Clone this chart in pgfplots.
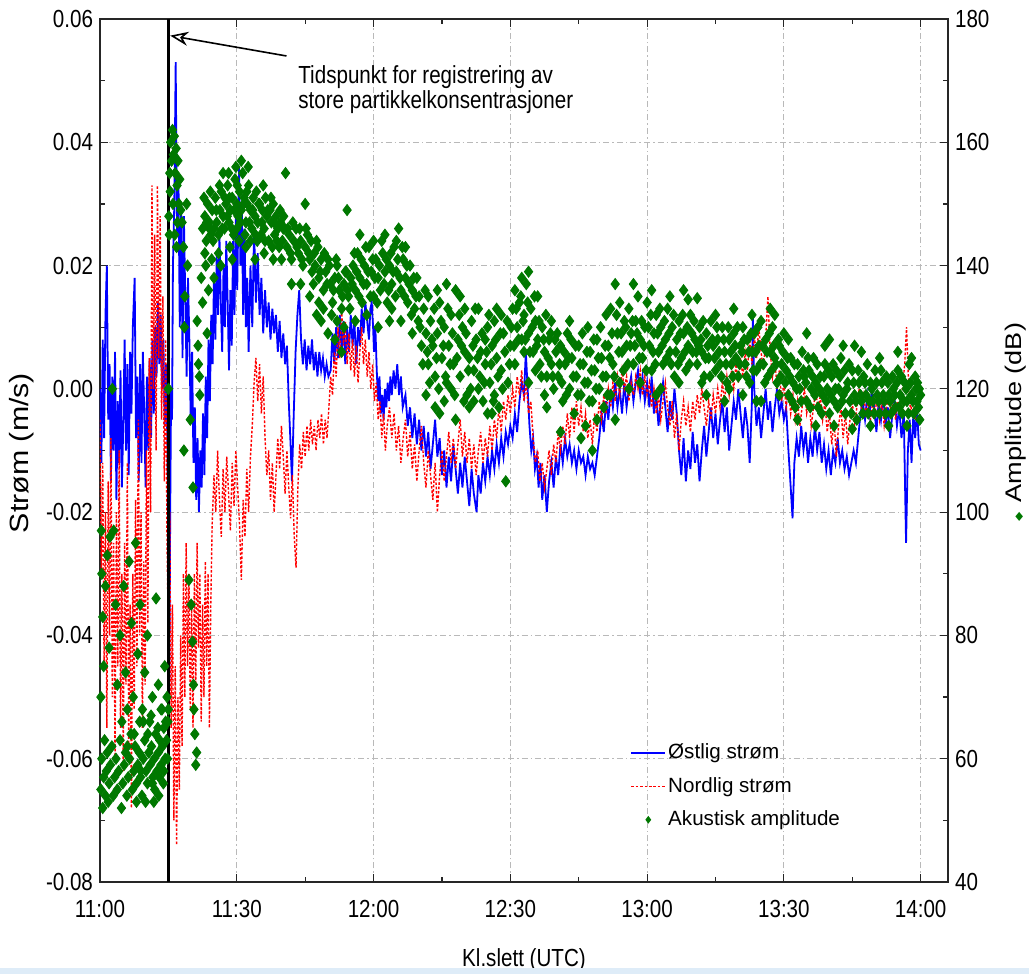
\documentclass[border=0pt]{standalone}
\usepackage{pgfplots}
\pgfplotsset{compat=1.18}
\usepackage{pgfplotstable}
\usepackage{fontspec}
\setmainfont{Liberation Sans}
\newfontfamily\dejavu{DejaVu Sans}
\usetikzlibrary{arrows.meta}
\definecolor{ampgreen}{RGB}{0,120,0}
\definecolor{gridgray}{RGB}{185,185,185}
\definecolor{bandblue}{RGB}{222,236,248}

\begin{document}
% Eastward current (m/s), minutes after 11:00 UTC
\pgfplotstableread[row sep=\\]{
t v\\
0.0 0.000\\ 0.3 -0.012\\ 0.6 0.008\\ 0.9 -0.008\\ 1.2 0.012\\ 1.5 0.020\\ 1.8 -0.005\\ 2.1 0.004\\ 2.4 -0.015\\ 2.7 0.002\\
3.0 -0.010\\ 3.3 0.006\\ 3.6 -0.018\\ 3.9 -0.002\\ 4.2 -0.012\\ 4.5 0.003\\ 4.8 -0.016\\ 5.1 -0.006\\ 5.4 0.008\\ 5.7 -0.010\\
6.0 0.004\\ 6.3 -0.014\\ 6.6 0.006\\ 6.9 -0.004\\ 7.2 0.010\\ 7.6 0.018\\ 7.9 -0.008\\ 8.2 0.002\\ 8.5 -0.015\\ 8.8 0.004\\
9.1 -0.012\\ 9.4 0.006\\ 9.7 -0.004\\ 10.0 -0.016\\ 10.3 0.002\\ 10.6 -0.010\\ 10.9 0.005\\ 11.2 -0.008\\ 11.5 0.008\\ 11.8 -0.004\\
12.1 0.010\\ 12.4 0.002\\ 12.7 0.014\\ 13.0 0.004\\ 13.3 0.012\\ 13.6 0.000\\ 13.9 0.008\\ 14.2 -0.006\\ 14.5 0.004\\ 14.8 -0.010\\
15.0 -0.030\\ 15.2 -0.049\\ 15.4 -0.020\\ 15.6 0.000\\ 15.8 -0.005\\ 16.0 0.020\\ 16.3 0.030\\ 16.6 0.053\\ 16.9 0.025\\ 17.2 0.035\\
17.5 0.010\\ 17.8 0.030\\ 18.1 0.005\\ 18.4 0.028\\ 18.7 0.015\\ 19.0 0.002\\ 19.3 0.018\\ 19.6 0.008\\ 19.9 -0.005\\ 20.2 0.006\\
20.5 -0.012\\ 20.8 -0.003\\ 21.1 -0.018\\ 21.4 -0.008\\ 21.7 -0.020\\ 22.0 -0.010\\ 22.3 -0.016\\ 22.6 -0.004\\ 22.9 -0.014\\ 23.2 0.002\\
23.5 -0.008\\ 23.8 0.008\\ 24.1 -0.002\\ 24.4 0.012\\ 24.7 0.004\\ 25.0 0.018\\ 25.3 0.008\\ 25.6 0.022\\ 25.9 0.012\\ 26.2 0.025\\
26.5 0.014\\ 26.8 0.006\\ 27.1 0.020\\ 27.4 0.010\\ 27.7 0.024\\ 28.0 0.014\\ 28.3 0.003\\ 28.6 0.016\\ 28.9 0.007\\ 29.2 0.024\\
29.5 0.012\\ 29.8 0.028\\ 30.1 0.016\\ 30.5 0.036\\ 30.8 0.020\\ 31.1 0.030\\ 31.4 0.012\\ 31.7 0.026\\ 32.0 0.010\\ 32.3 0.018\\
32.6 0.006\\ 33.0 0.020\\ 33.4 0.010\\ 33.8 0.026\\ 34.2 0.014\\ 34.6 0.022\\ 35.0 0.012\\ 35.4 0.018\\ 35.8 0.009\\ 36.2 0.016\\
36.6 0.010\\ 37.0 0.014\\ 37.4 0.008\\ 37.8 0.013\\ 38.2 0.009\\ 38.6 0.012\\ 39.0 0.006\\ 39.4 0.011\\ 39.8 0.005\\ 40.2 0.009\\
40.6 0.004\\ 41.0 0.007\\ 41.4 -0.002\\ 41.8 -0.009\\ 42.1 -0.015\\ 42.5 -0.004\\ 42.9 0.006\\ 43.3 0.012\\ 43.7 0.016\\ 44.1 0.008\\
44.5 0.004\\ 44.9 0.008\\ 45.3 0.003\\ 45.7 0.007\\ 46.1 0.004\\ 46.5 0.008\\ 46.9 0.003\\ 47.3 0.006\\ 47.7 0.002\\ 48.1 0.006\\
48.5 0.003\\ 48.9 0.005\\ 49.3 0.002\\ 49.7 0.004\\ 50.1 0.002\\ 50.6 0.003\\ 51.0 0.009\\ 51.4 0.004\\ 51.8 0.010\\ 52.2 0.005\\
52.6 0.012\\ 53.0 0.006\\ 53.4 0.011\\ 53.8 0.004\\ 54.2 0.010\\ 54.6 0.006\\ 55.0 0.012\\ 55.4 0.007\\ 55.8 0.011\\ 56.2 0.004\\
56.6 0.010\\ 57.0 0.007\\ 57.4 0.013\\ 57.8 0.009\\ 58.2 0.014\\ 58.6 0.011\\ 59.0 0.008\\ 59.3 0.013\\ 59.6 0.014\\ 59.9 0.010\\
60.1 0.006\\ 60.4 0.010\\ 60.7 0.003\\ 61.0 -0.002\\ 61.3 0.002\\ 61.6 -0.004\\ 61.9 -0.001\\ 62.2 -0.005\\ 62.5 0.000\\ 62.8 -0.003\\
63.1 0.001\\ 63.4 -0.002\\ 63.7 0.002\\ 64.0 -0.001\\ 64.4 0.003\\ 64.8 0.000\\ 65.2 0.004\\ 65.6 -0.001\\ 66.0 0.002\\ 66.4 -0.003\\
67.0 -0.001\\ 67.5 -0.006\\ 68.0 -0.003\\ 68.5 -0.008\\ 69.0 -0.004\\ 69.5 -0.009\\ 70.0 -0.005\\ 70.5 -0.010\\ 71.0 -0.006\\ 71.5 -0.011\\
72.0 -0.007\\ 72.5 -0.013\\ 73.0 -0.009\\ 73.5 -0.005\\ 74.0 -0.011\\ 74.5 -0.008\\ 75.0 -0.014\\ 75.5 -0.010\\ 76.0 -0.016\\ 76.5 -0.011\\
77.0 -0.015\\ 77.5 -0.009\\ 78.0 -0.013\\ 78.5 -0.017\\ 79.0 -0.012\\ 79.5 -0.016\\ 80.0 -0.011\\ 80.5 -0.015\\ 81.0 -0.019\\ 81.5 -0.013\\
82.0 -0.017\\ 82.6 -0.020\\ 83.0 -0.014\\ 83.5 -0.017\\ 84.0 -0.012\\ 84.5 -0.015\\ 85.0 -0.011\\ 85.5 -0.014\\ 86.0 -0.010\\ 86.5 -0.013\\
87.0 -0.009\\ 87.5 -0.012\\ 88.0 -0.008\\ 88.5 -0.011\\ 89.0 -0.007\\ 89.5 -0.009\\ 90.0 -0.006\\ 90.5 -0.008\\ 91.0 -0.004\\ 91.5 -0.007\\
92.0 -0.002\\ 92.5 0.001\\ 93.0 -0.001\\ 93.4 0.006\\ 93.8 0.000\\ 94.2 -0.006\\ 94.6 -0.010\\ 95.0 -0.008\\ 95.4 -0.013\\ 95.8 -0.011\\
96.2 -0.016\\ 96.6 -0.012\\ 97.0 -0.018\\ 97.5 -0.014\\ 98.0 -0.020\\ 98.5 -0.015\\ 99.0 -0.012\\ 99.5 -0.016\\ 100.0 -0.011\\ 100.5 -0.014\\
101.0 -0.009\\ 101.5 -0.012\\ 102.0 -0.008\\ 102.5 -0.011\\ 103.0 -0.009\\ 103.5 -0.012\\ 104.0 -0.010\\ 104.5 -0.013\\ 105.0 -0.010\\ 105.5 -0.012\\
106.0 -0.011\\ 106.5 -0.014\\ 107.0 -0.011\\ 107.5 -0.013\\ 108.0 -0.012\\ 108.5 -0.014\\ 109.0 -0.011\\ 109.5 -0.008\\ 110.0 -0.004\\ 110.5 -0.007\\
111.0 -0.002\\ 111.5 -0.005\\ 112.0 0.000\\ 112.5 -0.003\\ 113.0 0.001\\ 113.5 -0.003\\ 114.0 0.000\\ 114.5 -0.004\\ 115.0 0.001\\ 115.5 -0.003\\
116.0 0.000\\ 116.5 0.002\\ 117.0 -0.002\\ 117.5 0.001\\ 118.0 0.003\\ 118.5 -0.001\\ 119.0 0.002\\ 119.5 -0.002\\ 120.0 0.001\\ 120.5 -0.003\\
121.0 0.002\\ 121.5 -0.004\\ 122.0 -0.001\\ 122.5 -0.006\\ 123.0 -0.002\\ 123.5 0.001\\ 124.0 -0.003\\ 124.5 -0.007\\ 125.0 -0.002\\ 125.5 -0.005\\
126.0 0.000\\ 126.5 -0.004\\ 127.0 -0.010\\ 127.5 -0.014\\ 128.0 -0.008\\ 128.5 -0.015\\ 129.0 -0.010\\ 129.5 -0.013\\ 130.0 -0.007\\ 130.5 -0.012\\
131.0 -0.009\\ 131.5 -0.015\\ 132.0 -0.010\\ 132.5 -0.006\\ 133.0 -0.011\\ 133.5 -0.007\\ 134.0 -0.003\\ 134.5 -0.008\\ 135.0 -0.004\\ 135.5 -0.009\\
136.0 -0.005\\ 136.5 -0.002\\ 137.0 -0.007\\ 137.5 -0.003\\ 138.0 -0.010\\ 138.5 -0.006\\ 139.0 -0.002\\ 139.5 -0.005\\ 140.0 0.000\\ 140.5 -0.004\\
141.0 -0.008\\ 141.5 -0.003\\ 142.0 -0.006\\ 142.5 -0.012\\ 143.0 -0.002\\ 143.2 0.012\\ 143.5 0.000\\ 144.0 -0.006\\ 144.5 -0.003\\ 145.0 -0.008\\
145.5 -0.004\\ 146.0 0.000\\ 146.5 -0.005\\ 147.0 -0.002\\ 147.5 -0.007\\ 148.0 -0.003\\ 148.5 0.000\\ 149.0 -0.004\\ 149.5 -0.002\\ 150.0 -0.005\\
150.5 -0.003\\ 151.0 -0.010\\ 151.5 -0.016\\ 151.9 -0.021\\ 152.3 -0.012\\ 152.8 -0.008\\ 153.3 -0.011\\ 153.8 -0.006\\ 154.3 -0.010\\ 154.8 -0.007\\
155.3 -0.012\\ 155.8 -0.008\\ 156.3 -0.011\\ 156.8 -0.006\\ 157.3 -0.010\\ 157.8 -0.007\\ 158.3 -0.012\\ 158.8 -0.009\\ 159.3 -0.013\\ 159.8 -0.010\\
160.3 -0.014\\ 160.8 -0.010\\ 161.3 -0.012\\ 161.8 -0.008\\ 162.3 -0.012\\ 162.8 -0.010\\ 163.3 -0.013\\ 163.8 -0.011\\ 164.3 -0.014\\ 164.8 -0.012\\
165.3 -0.010\\ 165.8 -0.012\\ 166.3 -0.008\\ 166.8 -0.004\\ 167.3 -0.002\\ 167.8 -0.005\\ 168.3 -0.001\\ 168.8 -0.004\\ 169.3 0.000\\ 169.8 -0.003\\
170.3 -0.007\\ 170.8 -0.002\\ 171.3 -0.005\\ 171.8 -0.001\\ 172.3 -0.006\\ 172.8 -0.003\\ 173.3 -0.008\\ 173.8 -0.004\\ 174.3 -0.002\\ 174.8 -0.006\\
175.3 -0.003\\ 175.8 -0.008\\ 176.3 -0.004\\ 176.8 -0.025\\ 177.2 -0.010\\ 177.6 -0.005\\ 178.0 -0.012\\ 178.4 -0.004\\ 178.8 -0.008\\ 179.2 -0.003\\
179.6 -0.009\\ 180.0 -0.010\\
}\ostlig

% Northward current (m/s)
\pgfplotstableread[row sep=\\]{
t v\\
0.0 -0.005\\ 0.3 -0.030\\ 0.6 -0.012\\ 0.9 -0.045\\ 1.2 -0.020\\ 1.5 -0.055\\ 1.8 -0.015\\ 2.1 -0.040\\ 2.4 -0.008\\ 2.7 -0.050\\
3.0 -0.025\\ 3.3 -0.060\\ 3.6 -0.020\\ 3.9 -0.045\\ 4.2 -0.010\\ 4.5 -0.055\\ 4.8 -0.030\\ 5.1 -0.062\\ 5.4 -0.025\\ 5.7 -0.048\\
6.0 -0.012\\ 6.3 -0.058\\ 6.6 -0.035\\ 6.9 -0.068\\ 7.2 -0.030\\ 7.5 -0.052\\ 7.8 -0.018\\ 8.1 -0.045\\ 8.4 -0.005\\ 8.7 -0.040\\
9.0 -0.020\\ 9.3 -0.055\\ 9.6 -0.028\\ 9.9 -0.048\\ 10.2 -0.010\\ 10.5 -0.038\\ 10.8 0.005\\ 11.1 -0.020\\ 11.4 0.033\\ 11.7 0.000\\
12.0 0.025\\ 12.3 -0.010\\ 12.6 0.033\\ 12.9 0.005\\ 13.2 0.028\\ 13.5 -0.005\\ 13.8 0.015\\ 14.1 -0.015\\ 14.4 0.008\\ 14.7 -0.025\\
15.0 -0.040\\ 15.3 -0.020\\ 15.6 -0.055\\ 15.9 -0.035\\ 16.2 -0.070\\ 16.5 -0.045\\ 16.8 -0.074\\ 17.1 -0.050\\ 17.4 -0.065\\ 17.7 -0.040\\
18.0 -0.058\\ 18.3 -0.030\\ 18.6 -0.050\\ 18.9 -0.025\\ 19.2 -0.045\\ 19.5 -0.030\\ 19.8 -0.052\\ 20.1 -0.035\\ 20.4 -0.055\\ 20.7 -0.030\\
21.0 -0.048\\ 21.3 -0.025\\ 21.6 -0.042\\ 21.9 -0.030\\ 22.2 -0.054\\ 22.5 -0.035\\ 22.8 -0.050\\ 23.1 -0.028\\ 23.4 -0.045\\ 23.7 -0.030\\
24.0 -0.055\\ 24.3 -0.035\\ 24.6 -0.022\\ 25.0 -0.014\\ 25.4 -0.020\\ 25.8 -0.010\\ 26.2 -0.018\\ 26.6 -0.024\\ 27.0 -0.013\\ 27.4 -0.020\\
27.8 -0.011\\ 28.2 -0.017\\ 28.6 -0.023\\ 29.0 -0.012\\ 29.4 -0.019\\ 29.8 -0.010\\ 30.2 -0.016\\ 30.6 -0.022\\ 31.0 -0.031\\ 31.4 -0.018\\
31.8 -0.024\\ 32.2 -0.013\\ 32.6 -0.020\\ 33.0 -0.011\\ 33.4 -0.006\\ 33.8 0.001\\ 34.2 0.005\\ 34.6 -0.002\\ 35.0 0.004\\ 35.4 -0.004\\
35.8 0.002\\ 36.2 -0.008\\ 36.6 -0.014\\ 37.0 -0.010\\ 37.4 -0.018\\ 37.8 -0.012\\ 38.2 -0.020\\ 38.6 -0.014\\ 39.0 -0.008\\ 39.4 -0.013\\
39.8 -0.006\\ 40.2 -0.011\\ 40.6 -0.017\\ 41.0 -0.010\\ 41.4 -0.016\\ 41.8 -0.021\\ 42.2 -0.014\\ 42.6 -0.024\\ 43.0 -0.029\\ 43.4 -0.016\\
43.8 -0.009\\ 44.2 -0.013\\ 44.6 -0.007\\ 45.0 -0.011\\ 45.4 -0.006\\ 45.8 -0.010\\ 46.2 -0.005\\ 46.6 -0.009\\ 47.0 -0.006\\ 47.4 -0.010\\
47.8 -0.005\\ 48.2 -0.008\\ 48.6 -0.004\\ 49.0 -0.009\\ 49.4 -0.005\\ 49.8 -0.008\\ 50.2 -0.003\\ 50.6 0.002\\ 51.0 -0.001\\ 51.4 0.006\\
51.8 0.002\\ 52.2 0.010\\ 52.6 0.005\\ 53.0 0.013\\ 53.4 0.007\\ 53.8 0.011\\ 54.2 0.004\\ 54.6 0.009\\ 55.0 0.003\\ 55.4 0.008\\
55.8 0.002\\ 56.2 0.007\\ 56.6 0.001\\ 57.0 0.006\\ 57.4 0.010\\ 57.8 0.004\\ 58.2 0.008\\ 58.6 0.002\\ 59.0 0.006\\ 59.4 0.000\\
59.8 0.004\\ 60.2 -0.002\\ 60.6 0.001\\ 61.0 -0.005\\ 61.4 -0.002\\ 61.8 -0.008\\ 62.2 -0.004\\ 62.6 -0.010\\ 63.0 -0.006\\ 63.5 -0.003\\
64.0 -0.008\\ 64.5 -0.004\\ 65.0 -0.010\\ 65.5 -0.006\\ 66.0 -0.012\\ 66.5 -0.008\\ 67.0 -0.005\\ 67.5 -0.011\\ 68.0 -0.007\\ 68.5 -0.013\\
69.0 -0.009\\ 69.5 -0.015\\ 70.0 -0.010\\ 70.5 -0.006\\ 71.0 -0.012\\ 71.5 -0.016\\ 72.0 -0.010\\ 72.5 -0.014\\ 73.0 -0.018\\ 73.5 -0.012\\
74.0 -0.020\\ 74.5 -0.014\\ 75.0 -0.010\\ 75.5 -0.015\\ 76.0 -0.011\\ 76.5 -0.007\\ 77.0 -0.012\\ 77.5 -0.008\\ 78.0 -0.013\\ 78.5 -0.009\\
79.0 -0.005\\ 79.5 -0.011\\ 80.0 -0.007\\ 80.5 -0.012\\ 81.0 -0.008\\ 81.5 -0.013\\ 82.0 -0.009\\ 82.5 -0.014\\ 83.0 -0.010\\ 83.5 -0.007\\
84.0 -0.012\\ 84.5 -0.008\\ 85.0 -0.011\\ 85.5 -0.006\\ 86.0 -0.010\\ 86.5 -0.005\\ 87.0 -0.008\\ 87.5 -0.003\\ 88.0 -0.007\\ 88.5 -0.002\\
89.0 -0.005\\ 89.5 -0.001\\ 90.0 -0.004\\ 90.5 0.000\\ 91.0 -0.003\\ 91.5 0.002\\ 92.0 -0.001\\ 92.5 0.003\\ 93.0 -0.002\\ 93.5 0.001\\
94.0 -0.004\\ 94.5 -0.002\\ 95.0 -0.008\\ 95.5 -0.012\\ 96.0 -0.010\\ 96.5 -0.015\\ 97.0 -0.012\\ 97.5 -0.016\\ 98.0 -0.013\\ 98.5 -0.010\\
99.0 -0.014\\ 99.5 -0.009\\ 100.0 -0.012\\ 100.5 -0.007\\ 101.0 -0.010\\ 101.5 -0.006\\ 102.0 -0.009\\ 102.5 -0.004\\ 103.0 -0.008\\ 103.5 -0.003\\
104.0 -0.007\\ 104.5 -0.002\\ 105.0 -0.006\\ 105.5 -0.003\\ 106.0 -0.007\\ 106.5 -0.004\\ 107.0 -0.008\\ 107.5 -0.005\\ 108.0 -0.009\\ 108.5 -0.004\\
109.0 -0.007\\ 109.5 -0.002\\ 110.0 -0.005\\ 110.5 -0.001\\ 111.0 -0.004\\ 111.5 0.000\\ 112.0 -0.003\\ 112.5 0.001\\ 113.0 -0.002\\ 113.5 0.002\\
114.0 -0.001\\ 114.5 0.003\\ 115.0 0.000\\ 115.5 0.002\\ 116.0 -0.002\\ 116.5 0.001\\ 117.0 -0.001\\ 117.5 0.002\\ 118.0 0.000\\ 118.5 0.003\\
119.0 -0.001\\ 119.5 0.002\\ 120.0 -0.001\\ 120.5 0.001\\ 121.0 -0.003\\ 121.5 0.000\\ 122.0 -0.004\\ 122.5 -0.001\\ 123.0 -0.005\\ 123.5 -0.002\\
124.0 0.001\\ 124.5 -0.003\\ 125.0 -0.006\\ 125.5 -0.002\\ 126.0 -0.008\\ 126.5 -0.004\\ 127.0 -0.010\\ 127.5 -0.005\\ 128.0 -0.002\\ 128.5 -0.006\\
129.0 -0.003\\ 129.5 -0.007\\ 130.0 -0.002\\ 130.5 -0.005\\ 131.0 -0.001\\ 131.5 -0.004\\ 132.0 0.000\\ 132.5 -0.003\\ 133.0 -0.006\\ 133.5 -0.002\\
134.0 -0.005\\ 134.5 -0.001\\ 135.0 -0.004\\ 135.5 0.000\\ 136.0 -0.003\\ 136.5 0.001\\ 137.0 -0.002\\ 137.5 0.002\\ 138.0 -0.001\\ 138.5 0.003\\
139.0 0.000\\ 139.5 0.004\\ 140.0 0.001\\ 140.5 0.005\\ 141.0 0.002\\ 141.5 0.006\\ 142.0 0.003\\ 142.5 0.008\\ 143.0 0.004\\ 143.5 0.009\\
144.0 0.005\\ 144.5 0.010\\ 145.0 0.006\\ 145.5 0.003\\ 146.0 0.008\\ 146.5 0.015\\ 147.0 0.006\\ 147.5 0.002\\ 148.0 0.005\\ 148.5 0.000\\
149.0 0.003\\ 149.5 -0.002\\ 150.0 0.001\\ 150.5 -0.003\\ 151.0 0.000\\ 151.5 -0.004\\ 152.0 -0.001\\ 152.5 -0.005\\ 153.0 -0.002\\ 153.5 -0.006\\
154.0 -0.003\\ 154.5 0.000\\ 155.0 -0.004\\ 155.5 -0.002\\ 156.0 -0.006\\ 156.5 -0.003\\ 157.0 0.000\\ 157.5 -0.004\\ 158.0 -0.001\\ 158.5 -0.005\\
159.0 -0.002\\ 159.5 -0.007\\ 160.0 -0.004\\ 160.5 -0.009\\ 161.0 -0.005\\ 161.5 -0.011\\ 162.0 -0.006\\ 162.5 -0.003\\ 163.0 -0.008\\ 163.5 -0.004\\
164.0 -0.009\\ 164.5 -0.005\\ 165.0 -0.002\\ 165.5 -0.006\\ 166.0 -0.003\\ 166.5 0.000\\ 167.0 -0.003\\ 167.5 -0.001\\ 168.0 -0.004\\ 168.5 -0.002\\
169.0 -0.005\\ 169.5 -0.002\\ 170.0 -0.004\\ 170.5 -0.001\\ 171.0 -0.005\\ 171.5 -0.002\\ 172.0 -0.006\\ 172.5 -0.003\\ 173.0 -0.001\\ 173.5 -0.004\\
174.0 -0.002\\ 174.5 -0.005\\ 175.0 -0.002\\ 175.5 -0.004\\ 176.0 0.000\\ 176.5 0.004\\ 176.9 0.010\\ 177.3 0.002\\ 177.8 -0.004\\ 178.3 -0.001\\
178.8 -0.005\\ 179.3 -0.002\\ 180.0 -0.003\\
}\nordlig

% Acoustic backscatter amplitude (dB)
\pgfplotstableread[row sep=\\]{
t a\\
0.2 55\\ 0.4 60\\ 0.6 52\\ 0.8 57\\ 1.0 63\\ 1.2 54\\ 1.4 58\\ 1.6 61\\ 1.8 53\\ 2.0 56\\
2.3 59\\ 2.6 62\\ 2.9 54\\ 3.2 57\\ 3.5 60\\ 3.8 55\\ 4.1 58\\ 4.4 63\\ 4.7 52\\ 5.0 56\\
5.3 59\\ 5.6 61\\ 5.9 54\\ 6.2 57\\ 6.5 60\\ 6.8 64\\ 7.1 55\\ 7.4 58\\ 7.7 62\\ 8.0 56\\
8.3 59\\ 8.6 61\\ 8.9 57\\ 9.2 54\\ 9.5 60\\ 9.8 63\\ 10.1 58\\ 10.4 56\\ 10.7 61\\ 11.0 59\\
11.3 62\\ 11.6 57\\ 11.9 60\\ 12.2 64\\ 12.5 58\\ 12.8 61\\ 13.1 63\\ 13.4 59\\ 13.7 62\\ 14.0 65\\
14.3 60\\ 14.6 63\\ 14.9 66\\ 13.0 57\\ 14.0 58\\ 12.0 55\\ 10.0 53\\ 8.0 53\\ 11.5 56\\ 9.0 58\\
9.5 66\\ 10.5 64\\ 11.2 67\\ 12.7 65\\ 13.6 68\\ 14.4 66\\ 8.7 66\\ 7.5 64\\ 6.0 62\\ 14.8 60\\
13.9 56\\ 12.9 54\\ 11.8 53\\
0.3 97\\ 0.6 83\\ 0.4 90\\ 0.8 75\\ 0.2 70\\ 1.2 88\\ 1.6 93\\ 2.0 78\\ 2.7 120\\ 2.2 96\\
3.0 97\\ 3.4 85\\ 3.8 72\\ 4.4 80\\ 4.8 66\\ 5.2 88\\ 5.6 74\\ 6.0 68\\ 6.4 92\\ 6.9 82\\
7.3 70\\ 7.8 95\\ 8.3 77\\ 8.8 85\\ 9.3 68\\ 9.8 74\\ 10.4 80\\ 10.9 66\\ 11.5 70\\ 12.3 86\\
12.8 72\\ 13.4 68\\ 14.2 75\\ 14.7 70\\ 15.0 68\\ 15.0 120\\
15.1 148\\ 15.3 155\\ 15.5 160\\ 15.7 157\\ 15.9 162\\ 16.1 158\\ 16.3 161\\ 16.5 155\\ 16.7 159\\ 16.9 153\\
17.1 157\\ 17.3 150\\ 17.5 154\\ 15.4 152\\ 16.0 150\\ 17.0 147\\ 17.7 149\\ 15.2 145\\ 16.4 145\\ 16.8 143\\
18.0 147\\ 18.3 143\\ 18.5 130\\ 18.6 135\\ 18.4 110\\ 19.0 150\\ 19.2 140\\ 19.5 89\\ 20.0 85\\ 20.3 79\\
20.5 72\\ 20.6 68\\ 20.8 64\\ 21.0 59\\ 21.2 61\\ 21.3 131\\ 21.5 127\\ 21.6 124\\ 21.8 122\\ 21.9 119\\
22.2 138\\ 22.5 134\\ 23.0 142\\ 23.5 129\\ 24.0 146\\ 19.8 115\\ 20.4 104\\
22.5 146\\ 23.0 148\\ 23.3 144\\ 23.6 150\\ 24.0 147\\ 24.3 145\\ 24.6 149\\ 25.0 146\\ 25.3 151\\ 25.6 147\\
26.0 145\\ 26.3 149\\ 26.6 152\\ 27.0 148\\ 27.3 146\\ 27.6 150\\ 28.0 153\\ 28.3 147\\ 28.6 149\\ 29.0 151\\
29.3 145\\ 29.6 154\\ 30.0 150\\ 30.3 148\\ 30.6 152\\ 31.0 149\\ 31.3 155\\ 31.6 151\\ 32.0 147\\ 32.3 150\\
32.6 153\\ 33.0 149\\ 33.3 146\\ 33.6 151\\ 34.0 148\\ 34.3 152\\ 34.6 147\\ 35.0 150\\ 35.3 145\\ 35.6 149\\
36.0 146\\ 36.3 151\\ 36.6 148\\ 37.0 144\\ 37.3 149\\ 37.6 147\\ 38.0 150\\ 38.3 145\\ 38.6 148\\ 39.0 146\\
39.3 143\\ 39.6 147\\ 40.0 144\\ 24.5 141\\ 26.5 140\\ 28.5 143\\ 30.5 144\\ 32.0 143\\ 34.0 141\\ 36.0 142\\
38.0 141\\ 27.0 155\\ 29.8 156\\ 31.0 157\\ 25.0 138\\ 23.8 136\\
22.8 151\\ 23.4 147\\ 24.2 152\\ 24.8 144\\ 25.5 149\\ 26.2 153\\ 26.8 146\\ 27.4 151\\ 27.9 148\\ 28.4 151\\
28.9 146\\ 29.4 149\\ 30.1 153\\ 30.8 147\\ 31.5 150\\ 32.2 152\\ 32.8 147\\ 33.5 149\\ 34.1 145\\ 34.8 150\\
35.5 147\\ 36.2 144\\ 36.8 149\\ 37.5 151\\ 38.2 147\\ 38.8 144\\ 39.5 149\\ 40.2 146\\ 23.2 140\\ 26.0 142\\
29.0 141\\ 33.0 144\\ 37.8 143\\ 39.8 141\\ 28.2 155\\ 32.5 156\\ 35.8 153\\ 30.0 146\\ 31.8 145\\ 34.5 144\\
40.5 146\\ 41.0 143\\ 41.5 145\\ 42.0 141\\ 42.5 144\\ 43.0 146\\ 43.5 142\\ 44.0 144\\ 44.5 140\\ 45.0 143\\
45.5 145\\ 46.0 141\\ 46.5 139\\ 47.0 142\\ 47.5 144\\ 48.0 138\\ 48.5 141\\ 49.0 136\\ 49.5 139\\ 50.0 141\\
50.5 137\\ 51.0 134\\ 51.5 138\\ 52.0 140\\ 52.5 136\\ 53.0 133\\ 53.5 137\\ 54.0 139\\ 54.5 135\\ 55.0 138\\
40.7 155\\ 44.0 137\\ 46.0 135\\ 47.5 132\\ 48.5 131\\ 50.0 129\\ 51.5 128\\ 53.0 126\\ 54.2 149\\ 52.0 131\\
49.0 133\\ 45.0 150\\
40.3 148\\ 41.2 146\\ 41.8 142\\ 42.3 147\\ 43.2 143\\ 43.8 146\\ 44.3 141\\ 45.2 146\\ 45.8 142\\ 46.3 144\\
47.2 140\\ 47.8 143\\ 48.3 139\\ 49.2 142\\ 49.8 137\\ 50.3 140\\ 51.2 136\\ 51.8 141\\ 52.3 138\\ 53.2 135\\
53.8 139\\ 54.3 136\\ 54.8 133\\ 42.0 137\\ 46.8 137\\ 50.8 132\\ 53.5 130\\ 48.0 134\\
55.5 140\\ 56.0 136\\ 56.5 142\\ 57.0 138\\ 57.5 134\\ 58.0 140\\ 58.5 137\\ 59.0 143\\ 59.5 139\\ 60.0 135\\
60.5 141\\ 61.0 138\\ 61.5 136\\ 62.0 142\\ 62.5 139\\ 63.0 134\\ 63.5 140\\ 64.0 137\\ 64.5 143\\ 65.0 139\\
65.5 146\\ 66.0 136\\ 66.5 141\\ 67.0 138\\ 67.5 134\\ 68.0 140\\ 68.5 136\\ 69.0 133\\ 69.5 138\\ 70.0 135\\
56.0 131\\ 58.5 132\\ 61.0 130\\ 63.5 131\\ 66.0 131\\ 68.5 129\\ 57.0 145\\ 60.0 144\\ 62.5 145\\ 65.0 144\\
67.0 143\\ 64.0 133\\
55.3 137\\ 55.8 142\\ 56.3 139\\ 56.8 135\\ 57.3 141\\ 57.8 137\\ 58.3 143\\ 58.8 139\\ 59.3 135\\ 59.8 141\\
60.3 138\\ 60.8 134\\ 61.3 140\\ 61.8 144\\ 62.3 137\\ 62.8 141\\ 63.3 136\\ 63.8 142\\ 64.3 139\\ 64.8 135\\
65.3 141\\ 65.8 138\\ 66.3 143\\ 66.8 135\\ 67.3 140\\ 67.8 137\\ 68.3 132\\ 68.8 138\\ 69.3 135\\ 69.8 131\\
70.5 127\\ 71.0 133\\ 71.5 129\\ 72.0 124\\ 72.5 131\\ 73.0 127\\ 73.5 122\\ 74.0 129\\ 74.5 134\\ 75.0 125\\
75.5 130\\ 76.0 121\\ 76.5 127\\ 77.0 132\\ 77.5 124\\ 78.0 115\\ 78.5 128\\ 79.0 122\\ 79.5 130\\ 80.0 126\\
80.5 119\\ 81.0 125\\ 81.5 131\\ 82.0 123\\ 82.5 128\\ 83.0 120\\ 83.5 126\\ 84.0 118\\ 84.5 124\\ 85.0 130\\
85.5 121\\ 86.0 127\\ 86.5 119\\ 87.0 125\\ 87.5 117\\ 88.0 123\\ 88.5 129\\ 89.0 105\\ 89.5 121\\ 90.0 127\\
72.0 135\\ 74.0 136\\ 76.0 137\\ 71.5 119\\ 73.5 117\\ 75.5 118\\ 79.0 135\\ 81.0 117\\ 83.0 133\\ 86.0 116\\
88.0 132\\ 77.0 120\\ 80.0 133\\ 84.5 128\\ 86.5 131\\
70.2 130\\ 70.8 124\\ 71.3 136\\ 71.8 126\\ 72.3 121\\ 72.8 128\\ 73.3 133\\ 73.8 125\\ 74.3 120\\ 74.8 131\\
75.3 127\\ 75.8 122\\ 76.3 133\\ 76.8 124\\ 77.3 129\\ 77.8 119\\ 78.3 125\\ 78.8 132\\ 79.3 127\\ 79.8 118\\
80.3 129\\ 80.8 123\\ 81.3 120\\ 81.8 127\\ 82.3 133\\ 82.8 125\\ 83.3 122\\ 83.8 129\\ 84.3 121\\ 84.8 126\\
85.3 132\\ 85.8 124\\ 86.3 118\\ 86.8 128\\ 87.3 122\\ 87.8 129\\ 88.3 120\\ 88.8 126\\ 89.3 131\\ 89.8 124\\
78.0 136\\ 82.0 118\\ 85.0 116\\ 87.0 133\\ 74.5 116\\
90.5 133\\ 91.0 136\\ 91.5 130\\ 92.0 134\\ 92.5 128\\ 93.0 132\\ 93.5 137\\ 94.0 129\\ 94.5 133\\ 95.0 126\\
95.5 131\\ 96.0 128\\ 96.5 124\\ 97.0 130\\ 97.5 126\\ 98.0 122\\ 98.5 128\\ 99.0 124\\ 99.5 120\\ 100.0 126\\
91.0 124\\ 92.5 138\\ 94.0 121\\ 96.0 135\\ 97.5 119\\ 99.0 131\\ 93.0 126\\ 95.5 123\\
90.2 130\\ 90.8 127\\ 91.3 133\\ 91.8 128\\ 92.3 135\\ 92.8 131\\ 93.3 128\\ 93.8 134\\ 94.3 126\\ 94.8 130\\
95.3 135\\ 95.8 127\\ 96.3 131\\ 96.8 122\\ 97.3 128\\ 97.8 132\\ 98.3 125\\ 98.8 129\\ 99.3 122\\ 99.8 128\\
94.0 139\\ 98.0 117\\
100.5 122\\ 101.0 127\\ 101.5 118\\ 102.0 124\\ 102.5 129\\ 103.0 120\\ 103.5 125\\ 104.0 116\\ 104.5 122\\ 105.0 127\\
105.5 119\\ 106.0 124\\ 106.5 114\\ 107.0 121\\ 107.5 126\\ 108.0 118\\ 108.5 123\\ 109.0 128\\ 109.5 120\\ 110.0 125\\
110.5 117\\ 111.0 122\\ 111.5 127\\ 112.0 119\\ 112.5 124\\ 113.0 137\\ 113.5 129\\ 114.0 121\\ 114.5 126\\ 115.0 131\\
101.0 113\\ 103.0 131\\ 105.5 112\\ 107.0 130\\ 109.0 115\\ 111.0 132\\ 112.0 133\\ 113.0 115\\ 114.0 134\\ 108.0 110\\
100.3 129\\ 100.8 124\\ 101.3 121\\ 101.8 126\\ 102.3 119\\ 102.8 125\\ 103.3 128\\ 103.8 122\\ 104.3 127\\ 104.8 119\\
105.3 124\\ 105.8 129\\ 106.3 121\\ 106.8 126\\ 107.3 118\\ 107.8 123\\ 108.3 128\\ 108.8 120\\ 109.3 125\\ 109.8 130\\
110.3 122\\ 110.8 127\\ 111.3 119\\ 111.8 125\\ 112.3 129\\ 112.8 122\\ 113.3 132\\ 113.8 126\\ 114.3 129\\ 114.8 123\\
115.5 127\\ 116.0 133\\ 116.5 129\\ 117.0 124\\ 117.5 131\\ 118.0 135\\ 118.5 128\\ 119.0 125\\ 119.5 130\\ 120.0 134\\
120.5 127\\ 121.0 123\\ 121.5 129\\ 122.0 132\\ 122.5 126\\ 123.0 130\\ 123.5 124\\ 124.0 128\\ 124.5 133\\ 125.0 126\\
125.5 130\\ 126.0 122\\ 126.5 128\\ 127.0 131\\ 127.5 125\\ 128.0 129\\ 128.5 123\\ 129.0 127\\ 129.5 132\\ 130.0 126\\
116.0 120\\ 118.5 121\\ 121.0 136\\ 123.0 120\\ 125.0 135\\ 127.0 121\\ 129.0 134.5\\ 117.0 137\\ 122.0 119\\ 128.0 136\\
115.3 130\\ 115.8 124\\ 116.3 127\\ 116.8 131\\ 117.3 127\\ 117.8 129\\ 118.3 125\\ 118.8 131\\ 119.3 127\\ 119.8 123\\
120.3 130\\ 120.8 132\\ 121.3 126\\ 121.8 124\\ 122.3 129\\ 122.8 133\\ 123.3 127\\ 123.8 131\\ 124.3 125\\ 124.8 129\\
125.3 124\\ 125.8 132\\ 126.3 126\\ 126.8 124\\ 127.3 129\\ 127.8 132\\ 128.3 126\\ 128.8 130\\ 129.3 124\\ 129.8 129\\
130.5 128\\ 131.0 124\\ 131.5 130\\ 132.0 126\\ 132.5 122\\ 133.0 129\\ 133.5 125\\ 134.0 131\\ 134.5 127\\ 135.0 123\\
135.5 128\\ 136.0 124\\ 136.5 130\\ 137.0 126\\ 137.5 121\\ 138.0 128\\ 138.5 124\\ 139.0 129\\ 139.5 125\\ 140.0 122\\
140.5 127\\ 141.0 130\\ 141.5 124\\ 142.0 128\\ 142.5 121\\ 143.0 126\\ 143.5 129\\ 144.0 123\\ 144.5 127\\ 145.0 131\\
145.5 124\\ 146.0 128\\ 146.5 122\\ 147.0 126\\ 147.5 130\\ 148.0 125\\ 148.5 121\\ 149.0 127\\ 149.5 124\\ 150.0 129\\
131.0 134.7\\ 133.0 119\\ 135.0 132\\ 137.0 118\\ 139.0 133\\ 141.0 119\\ 143.0 132\\ 145.0 118\\ 147.0 133\\ 149.0 119\\
132.0 121\\ 138.0 120\\ 144.0 118\\ 148.0 132\\
130.3 131\\ 130.8 126\\ 131.3 127\\ 131.8 128\\ 132.3 131\\ 132.8 125\\ 133.3 127\\ 133.8 122\\ 134.3 128\\ 134.8 125\\
135.3 130\\ 135.8 126\\ 136.3 122\\ 136.8 128\\ 137.3 124\\ 137.8 130\\ 138.3 126\\ 138.8 122\\ 139.3 127\\ 139.8 130\\
140.3 124\\ 140.8 126\\ 141.3 128\\ 141.8 122\\ 142.3 126\\ 142.8 129\\ 143.3 123\\ 143.8 126\\ 144.3 130\\ 144.8 124\\
145.3 127\\ 145.8 121\\ 146.3 126\\ 146.8 129\\ 147.3 123\\ 147.8 127\\ 148.3 124\\ 148.8 128\\ 149.3 122\\ 149.8 126\\
150.5 123\\ 151.0 119\\ 151.5 125\\ 152.0 121\\ 152.5 117\\ 153.0 124\\ 153.5 120\\ 154.0 126\\ 154.5 122\\ 155.0 118\\
155.5 123\\ 156.0 120\\ 156.5 125\\ 157.0 121\\ 157.5 117\\ 158.0 122\\ 158.5 119\\ 159.0 124\\ 159.5 120\\ 160.0 116\\
160.5 122\\ 161.0 118\\ 161.5 123\\ 162.0 120\\ 162.5 125\\ 163.0 119\\ 163.5 116\\ 164.0 121\\ 164.5 118\\ 165.0 123\\
165.5 119\\ 166.0 115\\ 166.5 121\\ 167.0 118\\ 167.5 122\\ 168.0 119\\ 168.5 116\\ 169.0 121\\ 169.5 118\\ 170.0 123\\
170.5 119\\ 171.0 116\\ 171.5 121\\ 172.0 118\\ 172.5 122\\ 173.0 119\\ 173.5 116\\ 174.0 120\\ 174.5 117\\ 175.0 123\\
175.5 119\\ 176.0 116\\ 176.5 121\\ 177.0 118\\ 177.5 124\\ 178.0 119\\ 178.5 116\\ 179.0 120\\ 179.5 117\\ 180.0 119\\
179.8 115\\ 179.3 121\\ 151.0 128\\ 153.0 115\\ 155.0 129\\ 157.0 114\\ 159.0 127\\ 161.0 114\\ 163.0 127\\ 165.0 113.5\\
167.0 126\\ 169.0 114\\ 171.0 125\\ 173.0 114\\ 175.0 126\\ 177.0 114\\ 178.0 125\\ 160.0 128\\ 165.5 127\\
150.3 121\\ 150.8 125\\ 151.3 122\\ 151.8 118\\ 152.3 124\\ 152.8 120\\ 153.3 122\\ 153.8 118\\ 154.3 123\\ 154.8 121\\
155.3 125\\ 155.8 117\\ 156.3 122\\ 156.8 119\\ 157.3 124\\ 157.8 120\\ 158.3 116\\ 158.8 122\\ 159.3 118\\ 159.8 123\\
160.3 119\\ 160.8 124\\ 161.3 120\\ 161.8 117\\ 162.3 122\\ 162.8 118\\ 163.3 123\\ 163.8 120\\ 164.3 124\\ 164.8 116\\
165.3 121\\ 165.8 118\\ 166.3 123\\ 166.8 119\\ 167.3 116\\ 167.8 121\\ 168.3 124\\ 168.8 118\\ 169.3 120\\ 169.8 116\\
170.3 121\\ 170.8 118\\ 171.3 123\\ 171.8 119\\ 172.3 116\\ 172.8 121\\ 173.3 118\\ 173.8 122\\ 174.3 119\\ 174.8 121\\
175.3 117\\ 175.8 122\\ 176.3 118\\ 176.8 120\\ 177.3 116\\ 177.8 121\\ 178.3 118\\ 178.8 122\\ 179.2 118\\ 179.7 120\\
}\akustisk

\begin{tikzpicture}
\pgfplotsset{
  every tick label/.append style={font=\fontsize{10.3bp}{12bp}\selectfont, yscale=1.2},
}
% page extent
\path[use as bounding box] (-50bp,-46bp) rectangle (464.5bp,441bp);

% left axis: current components
\begin{axis}[
  at={(0,0)}, anchor=south west,
  scale only axis, width=424bp, height=431.5bp,
  xmin=0, xmax=186, ymin=-0.08, ymax=0.06,
  xtick={0,30,60,90,120,150,180},
  xticklabels={11:00,11:30,12:00,12:30,13:00,13:30,14:00},
  minor xtick={15,45,75,105,135,165},
  ytick={-0.08,-0.06,-0.04,-0.02,0,0.02,0.04,0.06},
  minor ytick={-0.07,-0.05,-0.03,-0.01,0.01,0.03,0.05},
  yticklabel style={/pgf/number format/fixed, /pgf/number format/fixed zerofill, /pgf/number format/precision=2},
  /pgf/number format/assume math mode=true,
  scaled y ticks=false,
  xtick pos=both, ytick pos=left,
  tick align=inside,
  major tick length=4bp, minor tick length=2.5bp,
  xticklabel style={yshift=-4bp},
  grid=major,
  major grid style={gridgray, line width=0.5bp, dash pattern=on 3bp off 1.5bp on 0.8bp off 1.5bp},
  axis line style={black!85, line width=0.8bp},
  every tick/.style={black!85, line width=0.6bp},
  legend style={at={(0.625,0.163)}, anchor=north west, draw=none, fill=none,
    font=\fontsize{10.3bp}{12bp}\selectfont, row sep=5.8bp, inner sep=0pt,
    nodes={inner sep=1bp}},
  legend cell align=left,
]
\addplot[blue, line width=0.9bp] table[x=t, y=v] {\ostlig};
\addlegendentry{Østlig strøm}
\addplot[red, line width=0.7bp, dash pattern=on 1.3bp off 0.9bp] table[x=t, y=v] {\nordlig};
\addlegendentry{Nordlig strøm}
\addlegendimage{only marks, mark=diamond*, mark size=1.6bp, ampgreen}
\addlegendentry{Akustisk amplitude}
% moment of high particle concentration
\addplot[black, line width=1.4bp, forget plot] coordinates {(15,-0.08) (15,0.06)};
\draw[black, line width=0.8bp, -{Stealth[open, length=9bp, width=7bp]}]
  (axis cs:40.9,0.0540) -- (axis cs:15.4,0.0573);
\end{axis}

% right axis: acoustic amplitude
\begin{axis}[
  at={(0,0)}, anchor=south west,
  scale only axis, width=424bp, height=431.5bp,
  xmin=0, xmax=186, ymin=40, ymax=180,
  axis x line=none, axis y line*=right,
  ytick={40,60,80,100,120,140,160,180},
  minor ytick={50,70,90,110,130,150,170},
  /pgf/number format/assume math mode=true,
  tick align=inside,
  major tick length=4bp, minor tick length=2.5bp,
  axis line style={black!85, line width=0.8bp},
  every tick/.style={black!85, line width=0.6bp},
]
\addplot[only marks, mark=diamond*, mark size=2.8bp, ampgreen] table[x=t, y=a] {\akustisk};
\end{axis}

% annotation and axis titles
\node[anchor=north west, align=left, inner sep=0pt, yscale=1.2,
  font=\fontsize{10.3bp}{10.4bp}\selectfont] at (99bp,408.5bp)
  {Tidspunkt for registrering av\\store partikkelkonsentrasjoner};
\node[rotate=90, xscale=1.15, font=\fontsize{13.2bp}{15bp}\selectfont] at (-39bp,214.5bp) {Strøm (m/s)};
\node[rotate=90, xscale=1.2, font=\fontsize{11.3bp}{14bp}\selectfont] at (458bp,230bp)
  {{\color{ampgreen}\dejavu\fontsize{5bp}{5bp}\selectfont ◆}\hspace{4bp}Amplitude (dB)};
\node[yscale=1.2, font=\fontsize{10.3bp}{12bp}\selectfont] at (212bp,-39bp) {Kl.slett (UTC)};
\fill[bandblue] (-50bp,-46bp) rectangle (464.5bp,-43bp);
\end{tikzpicture}
\end{document}
